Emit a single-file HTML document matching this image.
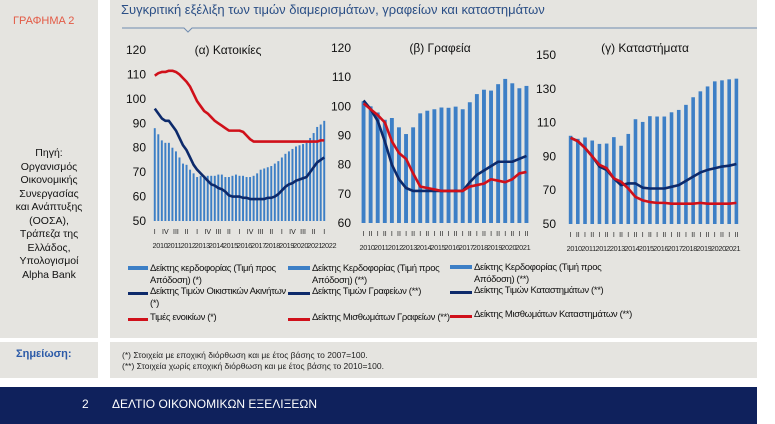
<!DOCTYPE html>
<html><head><meta charset="utf-8">
<style>
body{margin:0;width:775px;height:424px;background:#fff;font-family:"Liberation Sans",sans-serif;position:relative;overflow:hidden}
.abs{position:absolute}
.gray{background:#e5e4e0}
.src{font-size:10.5px;line-height:13.5px;text-align:center;color:#111}
.leg{font-size:9.5px;line-height:11.5px;color:#111;letter-spacing:-0.35px}
</style></head><body>
<div class="abs gray" style="left:0;top:0;width:98px;height:338px"></div>
<div class="abs gray" style="left:110px;top:0;width:647px;height:338px"></div>
<div class="abs" style="left:13px;top:15px;font-size:11px;color:#e35a45">ΓΡΑΦΗΜΑ 2</div>
<div class="abs src" style="left:0;top:147px;width:98px">Πηγή:<br>Οργανισμός<br>Οικονομικής<br>Συνεργασίας<br>και Ανάπτυξης<br>(ΟΟΣΑ),<br>Τράπεζα της<br>Ελλάδος,<br>Υπολογισμοί<br>Alpha Bank</div>
<div class="abs" style="left:121px;top:2px;font-size:13px;color:#2b4f86">Συγκριτική εξέλιξη των τιμών διαμερισμάτων, γραφείων και καταστημάτων</div>
<div class="abs gray" style="left:0;top:342px;width:98px;height:36px"></div>
<div class="abs gray" style="left:110px;top:342px;width:647px;height:36px"></div>
<div class="abs" style="left:16px;top:348px;font-size:11px;font-weight:bold;color:#2b5aa8">Σημείωση:</div>
<div class="abs" style="left:122px;top:350px;font-size:8.5px;line-height:11px;color:#222">(*) Στοιχεία με εποχική διόρθωση και με έτος βάσης το 2007=100.<br>(**) Στοιχεία χωρίς εποχική διόρθωση και με έτος βάσης το 2010=100.</div>
<div class="abs" style="left:0;top:387px;width:757px;height:37px;background:#0f215c"></div>
<div class="abs" style="left:82px;top:397px;font-size:12px;color:#fff">2</div>
<div class="abs" style="left:112px;top:397px;font-size:12px;color:#fff">ΔΕΛΤΙΟ ΟΙΚΟΝΟΜΙΚΩΝ ΕΞΕΛΙΞΕΩΝ</div>

<svg class="abs" id="svg" width="775" height="338" style="left:0;top:0">
<path d="M122 28 H184 L188 32 L192 28 H757" stroke="#6f8bb0" stroke-width="1" fill="none"/>
</svg>

<div class="abs leg" style="left:128px;top:263px">
<div style="position:absolute;left:0;top:0"><span style="position:absolute;left:0;top:3px;width:20px;height:4px;background:#3d7fc6"></span><span style="position:absolute;left:22px;top:0;width:135px">Δείκτης κερδοφορίας (Τιμή προς Απόδοση) (*)</span></div>
<div style="position:absolute;left:0;top:23px"><span style="position:absolute;left:0;top:6px;width:20px;height:2.5px;background:#0d2a6b"></span><span style="position:absolute;left:22px;top:0;width:142px">Δείκτης Τιμών Οικιστικών Ακινήτων (*)</span></div>
<div style="position:absolute;left:0;top:49px"><span style="position:absolute;left:0;top:6px;width:20px;height:2.5px;background:#d0101a"></span><span style="position:absolute;left:22px;top:0;width:140px">Τιμές ενοικίων (*)</span></div>
</div>
<div class="abs leg" style="left:288px;top:263px">
<div style="position:absolute;left:0;top:0"><span style="position:absolute;left:0;top:3px;width:22px;height:4px;background:#3d7fc6"></span><span style="position:absolute;left:24px;top:0;width:135px">Δείκτης Κερδοφορίας (Τιμή προς Απόδοση) (**)</span></div>
<div style="position:absolute;left:0;top:23px"><span style="position:absolute;left:0;top:6px;width:22px;height:2.5px;background:#0d2a6b"></span><span style="position:absolute;left:24px;top:0;white-space:nowrap">Δείκτης Τιμών Γραφείων (**)</span></div>
<div style="position:absolute;left:0;top:49px"><span style="position:absolute;left:0;top:6px;width:22px;height:2.5px;background:#d0101a"></span><span style="position:absolute;left:24px;top:0;white-space:nowrap">Δείκτης Μισθωμάτων Γραφείων (**)</span></div>
</div>
<div class="abs leg" style="left:450px;top:262px">
<div style="position:absolute;left:0;top:0"><span style="position:absolute;left:0;top:3px;width:22px;height:4px;background:#3d7fc6"></span><span style="position:absolute;left:24px;top:0;width:135px">Δείκτης Κερδοφορίας (Τιμή προς Απόδοση) (**)</span></div>
<div style="position:absolute;left:0;top:23px"><span style="position:absolute;left:0;top:6px;width:22px;height:2.5px;background:#0d2a6b"></span><span style="position:absolute;left:24px;top:0;white-space:nowrap">Δείκτης Τιμών Καταστημάτων (**)</span></div>
<div style="position:absolute;left:0;top:47px"><span style="position:absolute;left:0;top:6px;width:22px;height:2.5px;background:#d0101a"></span><span style="position:absolute;left:24px;top:0;width:185px">Δείκτης Μισθωμάτων Καταστημάτων (**)</span></div>
</div>

<script>
const barsA=[88,85.5,83,82,82,80,78.5,76,73.5,73,71,69.5,68,68.5,68.5,68.5,68.5,68.5,69,69,68,68,68.5,69,68.5,68.5,68,68,68.5,69.5,71,71.5,72,72.5,73.5,74.5,76,77.5,78.5,79.5,80.5,81,81.5,82,84,86,88.5,89.5,91];
const priceA=[96,94,92,91,91,89,87,84,81,79,76,73,71,69.5,68,66.5,65,64.5,63.5,63,62,60.5,60,60,60,59.5,59.5,59,59,59,59,59,59.5,59.5,60,61,62.5,64,65,65.5,66.5,67,67.5,68,70,72,74,75,76];
const rentA=[109.5,110.5,111,111,111.5,111.5,111,110,108.5,107,105,102,99,97,95,94,92.5,91,90,89,88,87,87,87,87,86.5,85,83.5,82.5,82.5,82.5,82.5,82.5,82.5,82.5,82.5,82.5,82.5,82.5,82.5,82.5,82.5,82.5,82.5,82.5,82.5,82.5,83,83];
const ticksA=[50,60,70,80,90,100,110,120];
const yearsA=["2010","2011","2012","2013","2014","2015","2016","2017","2018","2019","2020","2021","2022"];
const barsB=[101.7,100,97.9,95.4,96,92.8,90.5,92.8,97.6,98.5,99,99.6,99.5,99.9,99,101.4,104.2,105.7,105.4,107.6,109.4,107.9,106.2,107];
const priceB=[102,99,95,88,80,75,72,71,71,71,71,71,71,71,71,74,76.5,78,79.5,81,81,81,82,83];
const rentB=[101,99,97,94.5,88,84,82,77,72.5,72,71.5,71,71,71,71,72.5,73,73.5,75,74.5,74,75,77,77.5];
const ticksB=[60,70,80,90,100,110,120];
const barsC=[102.2,100.4,101.2,99.4,97.4,97.6,101.4,96.3,103.3,112,110.4,113.8,113.6,113.6,116.1,117.5,120.5,125,128.5,131.4,134.4,135,135.6,136];
const priceC=[101,99,95,90,84,82,77,73,74,74,71.5,71,71,71,72,73,75.5,78,80.5,82,83,84,84.5,85.5];
const rentC=[101,99,95,90,85,83,77,75,71,66,64,63,62.5,62.5,62,62,62,62,62.5,62,62,62,62,62.5];
const ticksC=[50,70,90,110,130,150];
const yearsBC=["2010","2011","2012","2013","2014","2015","2016","2017","2018","2019","2020","2021"];

const svg=document.getElementById('svg');const NS='http://www.w3.org/2000/svg';
function mk(t,a,p){const e=document.createElementNS(NS,t);for(const k in a)e.setAttribute(k,a[k]);(p||svg).appendChild(e);return e;}
function panel(cfg){
  const g=mk('g',{});
  
  
  const ys=v=>cfg.y1+(cfg.max-v)/(cfg.max-cfg.min)*(cfg.y0-cfg.y1);
  const n=cfg.bars.length,step=(cfg.x1-cfg.x0)/n;
  const xs=i=>cfg.x0+step*(i+0.5);
  cfg.ticks.forEach(t=>{const tx=mk('text',{x:cfg.lx,y:ys(t)+4,'font-size':12,fill:'#111','text-anchor':'end'},g);tx.textContent=t;
    });
  const tt=mk('text',{x:cfg.tx,y:cfg.ty,'font-size':12,fill:'#111','text-anchor':'middle'},g);tt.textContent=cfg.title;
  
  cfg.bars.forEach((v,i)=>{const r=mk('rect',{x:xs(i)-step*cfg.bw/2,y:ys(v),width:step*cfg.bw,height:cfg.y0-ys(v),fill:'#3d7fc6'},g);
    });
  [[cfg.price,'#0d2a6b','price-line'],[cfg.rent,'#d0101a','rent-line']].forEach(([arr,c,nm])=>{
    const p=mk('polyline',{points:arr.map((v,i)=>xs(i)+','+ys(v)).join(' '),fill:'none',stroke:c,'stroke-width':2.6,'stroke-linejoin':'round'},g);
    });
  for(let i=0;i<n;i++){ if(cfg.rom[i%cfg.rom.length]){const t=mk('text',{x:xs(i),y:cfg.y0+13,'font-size':7,fill:'#222','text-anchor':'middle'},g);t.textContent=cfg.rom[i%cfg.rom.length];
    }}
  cfg.years.forEach((yr,j)=>{const t=mk('text',{x:cfg.x0+cfg.ystep*(j+0.5),y:cfg.y0+27,'font-size':7.3,fill:'#222','text-anchor':'middle','letter-spacing':'-0.3'},g);t.textContent=yr;
    });
}
panel({name:'panel-houses',bars:barsA,price:priceA,rent:rentA,ticks:ticksA,min:50,max:120,y0:221,y1:50,x0:153,x1:326,lx:146,tx:228,ty:54,title:'(α) Κατοικίες',bw:0.55,
  rom:['I','','','IV','','','III','','','II','',''],years:yearsA,ystep:173/12.3});
panel({name:'panel-offices',bars:barsB,price:priceB,rent:rentB,ticks:ticksB,min:60,max:120,y0:223,y1:48,x0:360,x1:530,lx:351,tx:440,ty:52,title:'(β) Γραφεία',bw:0.55,
  rom:['I','II'],years:yearsBC,ystep:170/12});
panel({name:'panel-shops',bars:barsC,price:priceC,rent:rentC,ticks:ticksC,min:50,max:150,y0:224,y1:55,x0:567,x1:740,lx:556,tx:645,ty:52,title:'(γ) Καταστήματα',bw:0.5,
  rom:['I','II'],years:yearsBC,ystep:173/12});
</script>
</body></html>
